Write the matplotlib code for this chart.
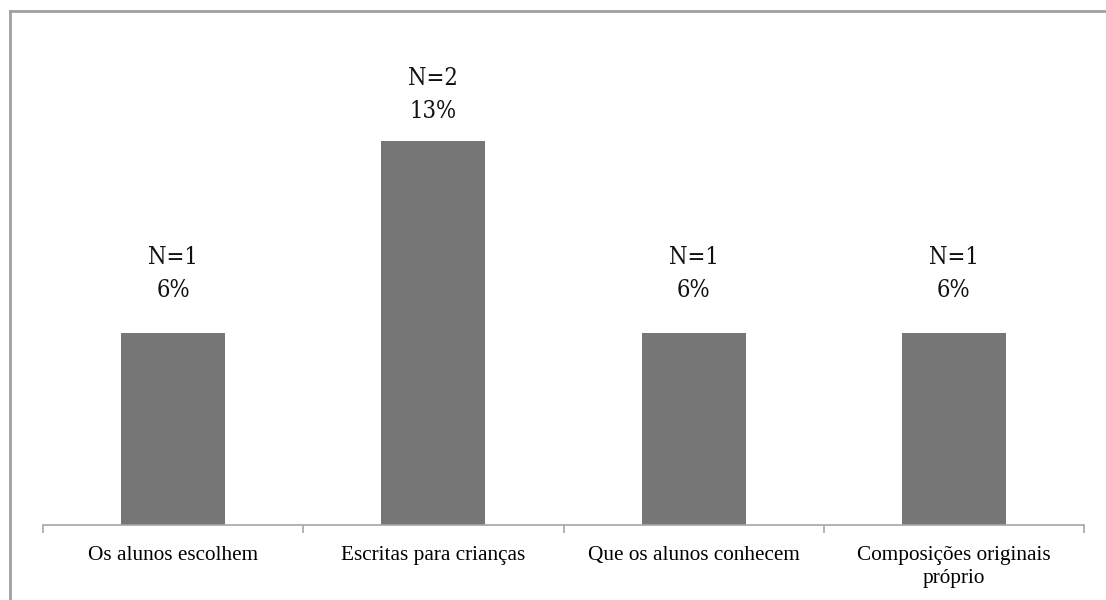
import matplotlib.pyplot as plt
from matplotlib.lines import Line2D
import numpy as np

categories = ['Os alunos escolhem', 'Escritas para crianças',
              'Que os alunos conhecem', 'Composições originais\npróprio']
counts = [1, 2, 1, 1]
percents = ['6%', '13%', '6%', '6%']

fig = plt.figure(figsize=(11.06, 6), dpi=100)
W, H = 1106, 600
ax = fig.add_axes([43 / W, 75 / H, (1084 - 43) / W, (525 - 45) / H])

x = np.arange(len(categories))
bars = ax.bar(x, counts, width=0.4, color='#767676')

ax.set_xlim(-0.5, len(categories) - 0.5)
ax.set_ylim(0, 2.5)

# data labels: two lines above each bar, kept inside the plot area
lab_font = dict(ha='center', va='baseline', fontsize=17, family='DejaVu Serif',
                stretch='condensed', color='#111111')
for b, n, p in zip(bars, counts, percents):
    xc = b.get_x() + b.get_width() / 2
    yb = min(n + 0.185, 2.12)
    ax.annotate(p, (xc, yb), xytext=(0, 0), textcoords='offset pixels', **lab_font)
    ax.annotate('N=%d' % n, (xc, yb), xytext=(0, 33), textcoords='offset pixels', **lab_font)

for s in ['top', 'right', 'left']:
    ax.spines[s].set_visible(False)
ax.spines['bottom'].set_color('#a6a6a6')
ax.spines['bottom'].set_linewidth(1.2)
ax.set_yticks([])

# category labels between tick marks
ax.set_xticks(np.arange(-0.5, len(categories), 1.0))
ax.set_xticklabels([])
ax.tick_params(axis='x', length=6, width=1.2, color='#a6a6a6')
ax.set_xticks(x, minor=True)
ax.set_xticklabels(categories, minor=True, fontsize=15.3,
                   family='Liberation Serif', linespacing=1.3)
ax.tick_params(axis='x', which='minor', length=0, pad=15)

# chart border (left and top)
fig.add_artist(Line2D([9.5 / W, 9.5 / W], [0, 1 - 11 / H], transform=fig.transFigure,
                      color='#a0a0a0', lw=2))
fig.add_artist(Line2D([9.5 / W, 1], [1 - 11 / H, 1 - 11 / H], transform=fig.transFigure,
                      color='#a0a0a0', lw=2))

fig.savefig('out.png', dpi=100, facecolor='white')
